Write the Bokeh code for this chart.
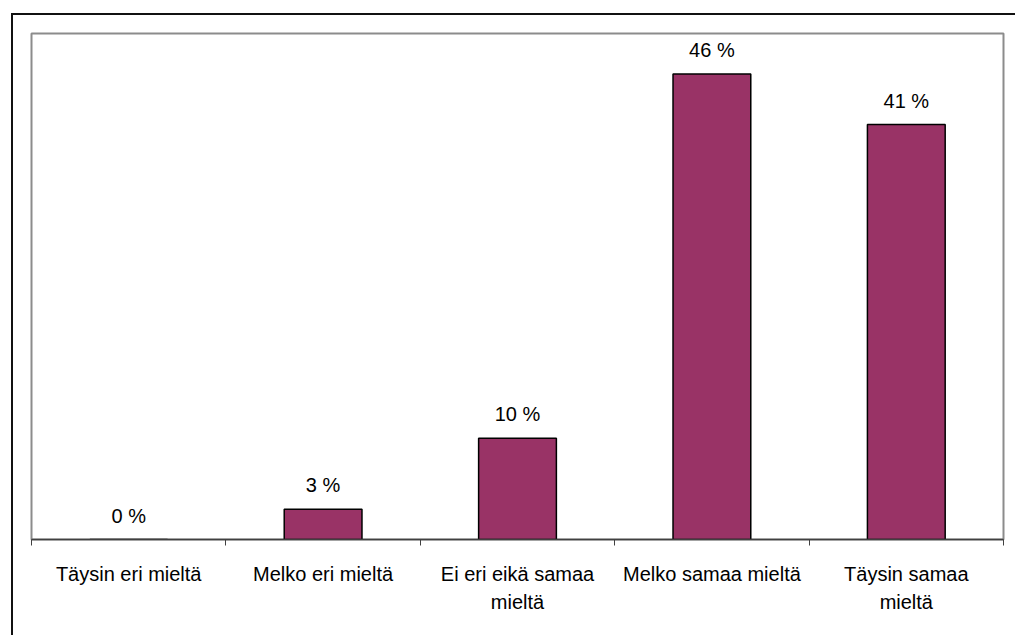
from bokeh.plotting import figure
from bokeh.models import FixedTicker, ColumnDataSource, Range1d
from bokeh.core.properties import value
from bokeh.embed import file_html
from bokeh.resources import INLINE

categories = ["Täysin eri mieltä", "Melko eri mieltä", "Ei eri eikä samaa\nmieltä",
              "Melko samaa mieltä", "Täysin samaa\nmieltä"]
values = [0, 3, 10, 46, 41]
labels = ["0 %", "3 %", "10 %", "46 %", "41 %"]

xs = [i + 0.5 for i in range(len(categories))]
src = ColumnDataSource(dict(x=xs, top=values, lab=labels))

p = figure(width=1004, height=622, output_backend="svg", toolbar_location=None,
           x_range=Range1d(0, 5), y_range=Range1d(0, 50), y_axis_location=None,
           min_border_left=18, min_border_right=14, min_border_top=18, min_border_bottom=98)
p.margin = (13, 0, 0, 11)
p.styles = {"border-left": "2px solid #111111", "border-top": "2px solid #111111"}
p.background_fill_color = "white"
p.border_fill_color = "white"
p.outline_line_color = "#8c8c8c"
p.outline_line_width = 2
p.xgrid.visible = False
p.ygrid.visible = False

p.vbar(x="x", top="top", width=0.4, bottom=0, source=src,
       fill_color="#993366", line_color="black", line_width=1.5)
p.text(x="x", y="top", text="lab", source=src, text_align="center", text_baseline="bottom",
       y_offset=-13, text_font=value("Liberation Sans"), text_font_size="20px", text_color="black")

ax = p.xaxis[0]
ax.ticker = FixedTicker(ticks=xs, minor_ticks=[0, 1, 2, 3, 4, 5])
ax.major_label_overrides = {x: c for x, c in zip(xs, categories)}
ax.major_tick_out = 0
ax.major_tick_in = 0
ax.minor_tick_out = 6
ax.minor_tick_in = 0
ax.minor_tick_line_color = "#404040"
ax.axis_line_color = "#404040"
ax.axis_line_width = 1.5
ax.major_label_standoff = 17
ax.major_label_text_font = "Liberation Sans"
ax.major_label_text_font_size = "20px"
ax.major_label_text_color = "black"
ax.major_label_text_line_height = 1.3

open("out.html", "w").write(file_html(p, INLINE))
